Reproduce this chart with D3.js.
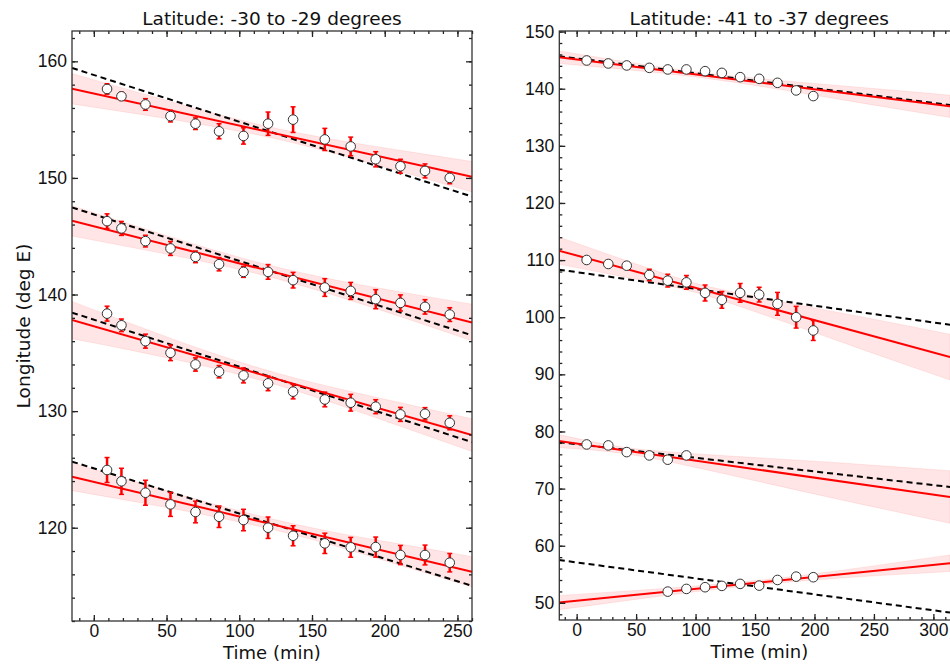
<!DOCTYPE html>
<html>
<head>
<meta charset="utf-8">
<script src="https://cdnjs.cloudflare.com/ajax/libs/d3/7.8.5/d3.min.js"></script>
<style>
body { margin: 0; background: #fff; }
svg { font-family: "DejaVu Sans", sans-serif; }
</style>
</head>
<body>
<svg width="950" height="664"></svg>
<script>
// ---- left panel: latitude -30 to -29 ----
const timesL = [9.1, 19.0, 35.5, 52.7, 69.9, 86.1, 102.9, 119.8, 137.0, 158.8, 176.6, 193.8, 210.8, 227.7, 244.7];

const lonL1 = [157.63, 157.0, 156.3, 155.3, 154.65, 154.0, 153.6, 154.65, 155.0, 153.3, 152.7, 151.6, 151.0, 150.6, 150.0];
const errL1 = [0.45, 0.35, 0.5, 0.5, 0.5, 0.65, 0.7, 1.0, 1.1, 0.95, 0.8, 0.65, 0.6, 0.6, 0.5];
const lonL2 = [146.29, 145.67, 144.58, 143.95, 143.23, 142.6, 141.94, 141.94, 141.23, 140.6, 140.31, 139.6, 139.28, 138.94, 138.28];
const errL2 = [0.63, 0.6, 0.5, 0.6, 0.5, 0.57, 0.47, 0.63, 0.67, 0.76, 0.73, 0.82, 0.69, 0.62, 0.59];
const lonL3 = [138.36, 137.36, 136.0, 135.0, 134.0, 133.38, 133.06, 132.38, 131.67, 131.0, 130.72, 130.38, 129.72, 129.77, 129.0];
const errL3 = [0.64, 0.54, 0.6, 0.67, 0.57, 0.53, 0.64, 0.63, 0.62, 0.63, 0.72, 0.6, 0.6, 0.53, 0.6];
const lonL4 = [124.95, 123.98, 123.0, 122.0, 121.35, 120.94, 120.66, 120.0, 119.31, 118.66, 118.32, 118.34, 117.66, 117.66, 117.0];
const errL4 = [1.07, 1.12, 1.07, 1.03, 0.93, 0.92, 0.92, 0.92, 0.86, 0.87, 0.85, 0.86, 0.82, 0.85, 0.79];

// fitted (red) and reference (dashed) lines, end points [time, lon]
const fitL1 = [[-15, 157.65], [260, 150.1]];
const fitL2 = [[-15, 146.32], [260, 137.6]];
const fitL3 = [[-15, 137.81], [260, 127.94]];
const fitL4 = [[-15, 124.38], [260, 116.22]];
const dashL1 = [[-15, 159.43], [260, 148.4]];
const dashL2 = [[-15, 147.47], [260, 136.5]];
const dashL3 = [[-15, 138.45], [260, 127.34]];
const dashL4 = [[-15, 125.67], [260, 115.02]];

// confidence bands
const bandTimesL = [-15, 30, 80, 125, 170, 215, 260];
const bandL1Hi = [158.95, 157.35, 155.63, 154.26, 153.19, 152.28, 151.41];
const bandL1Lo = [156.35, 155.49, 154.46, 153.36, 151.95, 150.4, 148.79];
const bandL2Hi = [147.62, 145.84, 143.91, 142.38, 141.15, 140.13, 139.17];
const bandL2Lo = [145.02, 143.94, 142.71, 141.38, 139.75, 137.93, 136.03];
const bandL3Hi = [139.41, 137.3, 135.05, 133.29, 131.87, 130.61, 129.34];
const bandL3Lo = [136.21, 135.1, 133.75, 132.29, 130.47, 128.51, 126.54];
const bandL4Hi = [125.58, 123.89, 122.11, 120.68, 119.49, 118.51, 117.52];
const bandL4Lo = [123.18, 122.19, 121.01, 119.78, 118.29, 116.61, 114.92];

// ---- right panel: latitude -41 to -37 ----
const timesR = [8.4, 26.6, 42.1, 61.1, 76.6, 92.3, 108.0, 122.1, 137.5, 153.5, 168.9, 184.6, 199.0];
const timesR3 = [8.4, 26.6, 42.1, 61.1, 76.6, 92.3];
const timesR4 = [76.6, 92.3, 108.0, 122.1, 137.5, 153.5, 168.9, 184.6, 199.0];

const lonR1 = [144.94, 144.42, 144.07, 143.65, 143.37, 143.37, 143.07, 142.77, 142.02, 141.73, 141.03, 139.7, 138.71];
const errR1 = [0.3, 0.3, 0.35, 0.3, 0.3, 0.3, 0.4, 0.35, 0.4, 0.4, 0.35, 0.3, 0.3];
const lonR2 = [110.02, 109.32, 109.02, 107.4, 106.4, 106.1, 104.26, 103.04, 104.26, 103.96, 102.34, 100.0, 97.68];
const errR2 = [0.3, 0.3, 0.4, 1.0, 1.1, 1.2, 1.4, 1.45, 1.65, 1.3, 2.0, 1.9, 1.75];
const lonR3 = [77.73, 77.56, 76.39, 75.81, 75.06, 75.81];
const errR3 = [0.3, 0.3, 0.3, 0.4, 0.6, 0.3];
const lonR4 = [51.97, 52.44, 52.74, 52.97, 53.32, 53.02, 54.01, 54.59, 54.49];
const errR4 = [0.2, 0.2, 0.2, 0.2, 0.2, 0.2, 0.2, 0.2, 0.2];

const fitR1 = [[-15, 145.52], [314, 136.91]];
const fitR2 = [[-15, 111.66], [314, 93.02]];
const fitR3 = [[-15, 78.32], [314, 68.53]];
const fitR4 = [[-15, 50.04], [314, 56.94]];
const dashR1 = [[-15, 145.7], [314, 137.14]];
const dashR2 = [[-15, 108.33], [314, 98.67]];
const dashR3 = [[-15, 78.14], [314, 70.28]];
const dashR4 = [[-15, 57.5], [314, 48.3]];

const bandTimesR = [-15, 40, 100, 160, 220, 280, 314];
const bandR1Hi = [146.62, 144.78, 142.96, 141.64, 140.57, 139.5, 138.86];
const bandR1Lo = [144.42, 143.38, 142.06, 140.24, 138.17, 136.1, 134.96];
const bandR2Hi = [114.06, 110.04, 105.94, 103.24, 100.84, 98.44, 97.02];
const bandR2Lo = [109.26, 107.04, 104.34, 100.24, 95.84, 91.44, 89.02];
const bandR3Hi = [79.47, 77.23, 76.1, 75.31, 74.53, 73.64, 73.13];
const bandR3Lo = [77.17, 76.13, 73.7, 70.91, 68.13, 65.44, 63.93];
const bandR4Hi = [51.29, 52.04, 52.95, 54.11, 55.62, 57.38, 58.4];
const bandR4Lo = [48.79, 50.34, 51.95, 53.31, 54.32, 55.08, 55.48];

// ticks
const xTicksL = [0, 50, 100, 150, 200, 250];
const yTicksL = [120, 130, 140, 150, 160];
const xTicksR = [0, 50, 100, 150, 200, 250, 300];
const yTicksR = [50, 60, 70, 80, 90, 100, 110, 120, 130, 140, 150];

const titleL = "Latitude: -30 to -29 degrees";
const titleR = "Latitude: -41 to -37 degrees";

function makeSeries(t, lon, err, fit, dash, bandT, lo, hi) {
    return {t: t, lon: lon, err: err, fit: fit, dash: dash, bandT: bandT, lo: lo, hi: hi};
}

const panels = [
    {
        id: "L", left: 72, top: 31, width: 400, height: 590,
        xDomain: [-15, 260], yDomain: [112, 162.6],
        xTicks: xTicksL, yTicks: yTicksL,
        xMinor: d3.range(-10, 261, 10), yMinor: d3.range(112, 163, 2),
        title: titleL, ylabel: true,
        series: [
            makeSeries(timesL, lonL1, errL1, fitL1, dashL1, bandTimesL, bandL1Lo, bandL1Hi),
            makeSeries(timesL, lonL2, errL2, fitL2, dashL2, bandTimesL, bandL2Lo, bandL2Hi),
            makeSeries(timesL, lonL3, errL3, fitL3, dashL3, bandTimesL, bandL3Lo, bandL3Hi),
            makeSeries(timesL, lonL4, errL4, fitL4, dashL4, bandTimesL, bandL4Lo, bandL4Hi)
        ]
    },
    {
        id: "R", left: 559.3, top: 31, width: 400, height: 589,
        xDomain: [-14.6, 321.8], yDomain: [47, 150.1],
        xTicks: xTicksR, yTicks: yTicksR,
        xMinor: d3.range(-10, 321, 10), yMinor: d3.range(48, 151, 2),
        title: titleR, ylabel: false,
        series: [
            makeSeries(timesR, lonR1, errR1, fitR1, dashR1, bandTimesR, bandR1Lo, bandR1Hi),
            makeSeries(timesR, lonR2, errR2, fitR2, dashR2, bandTimesR, bandR2Lo, bandR2Hi),
            makeSeries(timesR3, lonR3, errR3, fitR3, dashR3, bandTimesR, bandR3Lo, bandR3Hi),
            makeSeries(timesR4, lonR4, errR4, fitR4, dashR4, bandTimesR, bandR4Lo, bandR4Hi)
        ]
    }
];

function createAxis(g, p, scX, scY) {
    const major = 6, minor = 3;

    g.append("g").attr("transform", `translate(0,${p.height})`)
        .call(d3.axisBottom(scX).tickValues(p.xMinor).tickSize(-minor).tickFormat(""));
    g.append("g")
        .call(d3.axisTop(scX).tickValues(p.xMinor).tickSize(-minor).tickFormat(""));
    g.append("g")
        .call(d3.axisLeft(scY).tickValues(p.yMinor).tickSize(-minor).tickFormat(""));
    g.append("g").attr("transform", `translate(${p.width},0)`)
        .call(d3.axisRight(scY).tickValues(p.yMinor).tickSize(-minor).tickFormat(""));

    g.append("g").attr("class", "xmaj").attr("transform", `translate(0,${p.height})`)
        .call(d3.axisBottom(scX).tickValues(p.xTicks).tickSize(-major).tickPadding(4));
    g.append("g")
        .call(d3.axisTop(scX).tickValues(p.xTicks).tickSize(-major).tickFormat(""));
    g.append("g").attr("class", "ymaj")
        .call(d3.axisLeft(scY).tickValues(p.yTicks).tickSize(-major).tickPadding(5));
    g.append("g").attr("transform", `translate(${p.width},0)`)
        .call(d3.axisRight(scY).tickValues(p.yTicks).tickSize(-major).tickFormat(""));

    g.selectAll(".domain").remove();
    g.selectAll(".tick line").attr("stroke", "#222").attr("stroke-width", 1.3);
    g.selectAll(".tick text").attr("fill", "#111").style("font-size", "17.5px");

    g.append("rect")
        .attr("width", p.width).attr("height", p.height)
        .attr("fill", "none").attr("stroke", "#333").attr("stroke-width", 1.3);
}

function drawPanel(svg, p) {
    const scX = d3.scaleLinear().domain(p.xDomain).range([0, p.width]);
    const scY = d3.scaleLinear().domain(p.yDomain).range([p.height, 0]);

    const g = svg.append("g").attr("transform", `translate(${p.left},${p.top})`);

    g.append("clipPath").attr("id", "clip" + p.id)
        .append("rect").attr("width", p.width).attr("height", p.height);
    const plot = g.append("g").attr("clip-path", `url(#clip${p.id})`);

    const area = d3.area()
        .x(d => scX(d[0])).y0(d => scY(d[1])).y1(d => scY(d[2]))
        .curve(d3.curveMonotoneX);
    const line = d3.line().x(d => scX(d[0])).y(d => scY(d[1]));

    p.series.forEach(s => {
        const band = s.bandT.map((t, i) => [t, s.lo[i], s.hi[i]]);
        plot.append("path")
            .attr("d", area(band))
            .attr("fill", "#ff0000").attr("fill-opacity", 0.1)
            .attr("stroke", "#ff0000").attr("stroke-opacity", 0.08).attr("stroke-width", 1);
    });

    p.series.forEach(s => {
        plot.append("path")
            .attr("d", line(s.dash))
            .attr("fill", "none").attr("stroke", "#000")
            .attr("stroke-width", 2).attr("stroke-dasharray", "6,4");
        plot.append("path")
            .attr("d", line(s.fit))
            .attr("fill", "none").attr("stroke", "#ff0000").attr("stroke-width", 2);
    });

    p.series.forEach(s => {
        const pts = s.t.map((t, i) => ({t: t, lon: s.lon[i], err: s.err[i]}));
        const eb = plot.append("g").attr("stroke", "#ff0000").attr("stroke-width", 2.5);
        eb.selectAll(".bar").data(pts).enter().append("line")
            .attr("x1", d => scX(d.t)).attr("x2", d => scX(d.t))
            .attr("y1", d => scY(d.lon - d.err)).attr("y2", d => scY(d.lon + d.err));
        [-1, 1].forEach(sgn => {
            eb.selectAll(".cap" + sgn).data(pts).enter().append("line")
                .attr("x1", d => scX(d.t) - 2.5).attr("x2", d => scX(d.t) + 2.5)
                .attr("y1", d => scY(d.lon + sgn * d.err)).attr("y2", d => scY(d.lon + sgn * d.err))
                .attr("stroke-width", 1.5);
        });
        plot.selectAll(".dot").data(pts).enter().append("circle")
            .attr("cx", d => scX(d.t)).attr("cy", d => scY(d.lon))
            .attr("r", 4.8)
            .attr("fill", "#fff").attr("stroke", "#333").attr("stroke-width", 1);
    });

    createAxis(g, p, scX, scY);

    g.append("text")
        .attr("x", p.width / 2).attr("y", -6)
        .attr("text-anchor", "middle").attr("fill", "#111")
        .style("font-size", "18.5px").text(p.title);

    g.append("text")
        .attr("x", p.width / 2).attr("y", p.height + 38)
        .attr("text-anchor", "middle").attr("fill", "#111")
        .style("font-size", "18px").text("Time (min)");

    if (p.ylabel) {
        g.append("text")
            .attr("transform", `translate(${-p.left + 30},${p.height / 2}) rotate(-90)`)
            .attr("text-anchor", "middle").attr("fill", "#111")
            .style("font-size", "18.5px").text("Longitude (deg E)");
    }
}

const svg = d3.select("svg");
panels.forEach(p => drawPanel(svg, p));
</script>
</body>
</html>
